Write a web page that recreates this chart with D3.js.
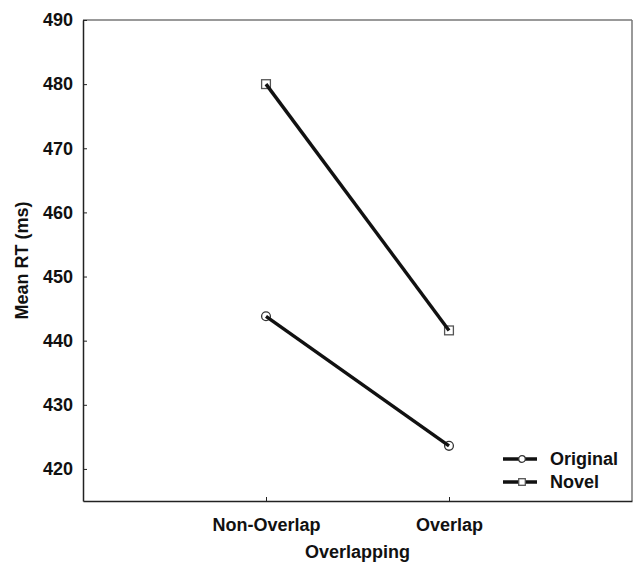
<!DOCTYPE html>
<html>
<head>
<meta charset="utf-8">
<script src="https://cdn.jsdelivr.net/npm/d3@7"></script>
<style>
  body { margin: 0; background: #fff; }
  text { font-family: "Liberation Sans", Arial, sans-serif; font-weight: bold; fill: #111; }
</style>
</head>
<body>
<svg id="chart" width="634" height="562"></svg>
<script>
// data
const categories = ["Non-Overlap", "Overlap"];
const seriesNames = ["Original", "Novel"];
const originalValues = [443.8, 423.6];
const novelValues = [480.0, 441.6];
const yTicks = [420, 430, 440, 450, 460, 470, 480, 490];

const series = [
  { name: "Original", values: originalValues, marker: "circle" },
  { name: "Novel", values: novelValues, marker: "square" }
];

const svg = d3.select("#chart");
const margin = { left: 83, top: 20, right: 2, bottom: 61 };
const width = 634 - margin.left - margin.right;   // 549
const height = 562 - margin.top - margin.bottom;  // 481

const g = svg.append("g").attr("transform", `translate(${margin.left},${margin.top})`);

const x = d3.scalePoint().domain(categories).range([0, width]).padding(1);
const y = d3.scaleLinear().domain([415, 490]).range([height, 0]);

// frame: top/right lighter, left/bottom dark
g.append("line").attr("x1", 0).attr("x2", width).attr("y1", 0).attr("y2", 0)
  .attr("stroke", "#777").attr("stroke-width", 1.5);
g.append("line").attr("x1", width).attr("x2", width).attr("y1", 0).attr("y2", height)
  .attr("stroke", "#777").attr("stroke-width", 1.5);

// y axis, ticks inward
const yAxis = g.append("g").call(d3.axisLeft(y).tickValues(yTicks).tickSizeInner(-4).tickSizeOuter(0).tickPadding(10));
yAxis.select(".domain").attr("stroke", "#222").attr("stroke-width", 1.5);
yAxis.selectAll(".tick line").attr("stroke", "#222");
yAxis.selectAll("text").attr("font-size", "18px").attr("fill", "#111");

// x axis, ticks inward
const xAxis = g.append("g").attr("transform", `translate(0,${height})`)
  .call(d3.axisBottom(x).tickSizeInner(-4).tickSizeOuter(0).tickPadding(17));
xAxis.select(".domain").attr("stroke", "#222").attr("stroke-width", 1.5);
xAxis.selectAll(".tick line").attr("stroke", "#222");
xAxis.selectAll("text").attr("font-size", "18px").attr("fill", "#111");

// axis titles
g.append("text")
  .attr("x", width / 2).attr("y", height + 57)
  .attr("text-anchor", "middle").attr("font-size", "18px")
  .text("Overlapping");

g.append("text")
  .attr("transform", `translate(${-55},${height / 2}) rotate(-90)`)
  .attr("text-anchor", "middle").attr("font-size", "18px")
  .text("Mean RT (ms)");

function drawMarker(sel, type, cx, cy, s) {
  if (type === "circle") {
    sel.append("circle").attr("cx", cx).attr("cy", cy).attr("r", s)
      .attr("fill", "#fff").attr("stroke", "#333").attr("stroke-width", 1.3);
  } else {
    sel.append("rect").attr("x", cx - s).attr("y", cy - s)
      .attr("width", 2 * s).attr("height", 2 * s)
      .attr("fill", "#fff").attr("stroke", "#555").attr("stroke-width", 1.3);
  }
}

const line = d3.line().x((d, i) => x(categories[i])).y(d => y(d));

series.forEach(s => {
  const sg = g.append("g");
  s.values.forEach((v, i) => drawMarker(sg, s.marker, x(categories[i]), y(v), 4.4));
  sg.append("path").datum(s.values)
    .attr("d", line)
    .attr("fill", "none").attr("stroke", "#111").attr("stroke-width", 3.4);
});

// legend
const legend = g.append("g").attr("transform", `translate(${503 - margin.left},${459 - margin.top})`);
series.forEach((s, i) => {
  const row = legend.append("g").attr("transform", `translate(0,${i * 23})`);
  row.append("line").attr("x1", 0).attr("x2", 34).attr("y1", 0).attr("y2", 0)
    .attr("stroke", "#111").attr("stroke-width", 3.4);
  drawMarker(row, s.marker, 19, 0, 3.3);
  row.append("text").attr("x", 47).attr("y", 0).attr("dy", "0.35em")
    .attr("font-size", "18px").text(seriesNames[i]);
});
</script>
</body>
</html>
